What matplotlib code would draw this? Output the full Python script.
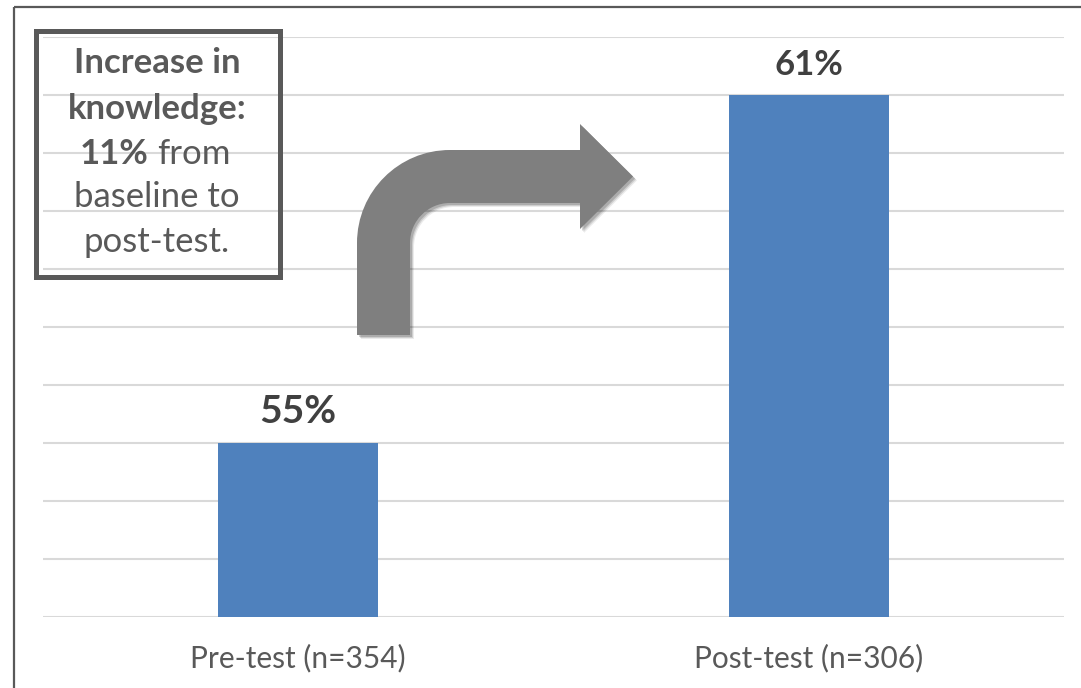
import matplotlib.pyplot as plt
import matplotlib.patches as mpatches
from matplotlib.path import Path
from matplotlib.transforms import Affine2D

# data
categories = ["Pre-test (n=354)", "Post-test (n=306)"]
scores = [55, 61]
value_labels = ["55%", "61%"]

W, H = 1081, 688
plt.rcParams["font.family"] = ["Lato", "DejaVu Sans"]

fig = plt.figure(figsize=(W / 100, H / 100), dpi=100)
ax = fig.add_axes([43 / W, 1 - 617 / H, (1064 - 43) / W, (617 - 37) / H])

# pixel coords (y down) -> figure coords
px = Affine2D().scale(1 / W, -1 / H).translate(0, 1) + fig.transFigure

x = range(len(categories))
ax.bar(x, scores, width=0.313, color="#4F81BD", zorder=3)
ax.set_xlim(-0.5, 1.5)
ax.set_ylim(52, 62)
ax.set_yticks(range(52, 63))
ax.yaxis.grid(True, color="#D9D9D9", linewidth=1.5, zorder=0)
ax.set_yticklabels([])
ax.tick_params(axis="y", length=0)
ax.tick_params(axis="x", length=0, pad=19, labelsize=21.5, labelcolor="#595959")
ax.set_xticks(list(x))
ax.set_xticklabels(categories)
for s in ax.spines.values():
    s.set_visible(False)

# value labels (first one drawn a bit larger, as in the original)
label_sizes = [28, 25]
for i, (v, lab) in enumerate(zip(scores, value_labels)):
    ax.annotate(lab, (i, v), xytext=(0, 14.4), textcoords="offset points",
                ha="center", va="baseline", fontsize=label_sizes[i],
                fontweight="bold", color="#404040")

# outer frame
fig.patches.append(mpatches.Rectangle((14, 7), 1100, 700, transform=px, fill=False,
                                      edgecolor="#595959", linewidth=1.6))

# text box
fig.patches.append(mpatches.Rectangle((35.5, 30.5), 244, 246, transform=px, fill=False,
                                      edgecolor="#595959", linewidth=3.6))
box_col = "#595959"
fs = 25
fig.text(157 / W, 1 - 63 / H, "Increase in", ha="center", va="center",
         fontsize=fs, fontweight="bold", color=box_col)
fig.text(157 / W, 1 - 109 / H, "knowledge:", ha="center", va="center",
         fontsize=fs, fontweight="bold", color=box_col)
fig.text(149 / W, 1 - 154 / H, "11%", ha="right", va="center",
         fontsize=fs, fontweight="bold", color=box_col)
fig.text(157 / W, 1 - 154 / H, "from", ha="left", va="center",
         fontsize=fs, color=box_col)
fig.text(157 / W, 1 - 197 / H, "baseline to", ha="center", va="center",
         fontsize=fs, color=box_col)
fig.text(157 / W, 1 - 242 / H, "post-test.", ha="center", va="center",
         fontsize=fs, color=box_col)

# bent arrow
k = 0.5523
ro, ri = 93, 40
verts = [
    (357, 335), (357, 243),
    (357, 243 - k * ro), (450 - k * ro, 150), (450, 150),
    (580, 150), (580, 124), (633, 176.5), (580, 229), (580, 203), (450, 203),
    (450 - k * ri, 203), (410, 243 - k * ri), (410, 243),
    (410, 335), (357, 335),
]
codes = [Path.MOVETO, Path.LINETO,
         Path.CURVE4, Path.CURVE4, Path.CURVE4,
         Path.LINETO, Path.LINETO, Path.LINETO, Path.LINETO, Path.LINETO, Path.LINETO,
         Path.CURVE4, Path.CURVE4, Path.CURVE4,
         Path.LINETO, Path.CLOSEPOLY]
arrow = Path(verts, codes)
for off, a in [(4, 0.08), (3, 0.12), (2, 0.16)]:
    sh = Affine2D().translate(off, off) + px
    fig.patches.append(mpatches.PathPatch(arrow, transform=sh, facecolor="#000000",
                                          edgecolor="none", alpha=a))
fig.patches.append(mpatches.PathPatch(arrow, transform=px, facecolor="#7F7F7F",
                                      edgecolor="none"))

fig.savefig("out.png", dpi=100)
